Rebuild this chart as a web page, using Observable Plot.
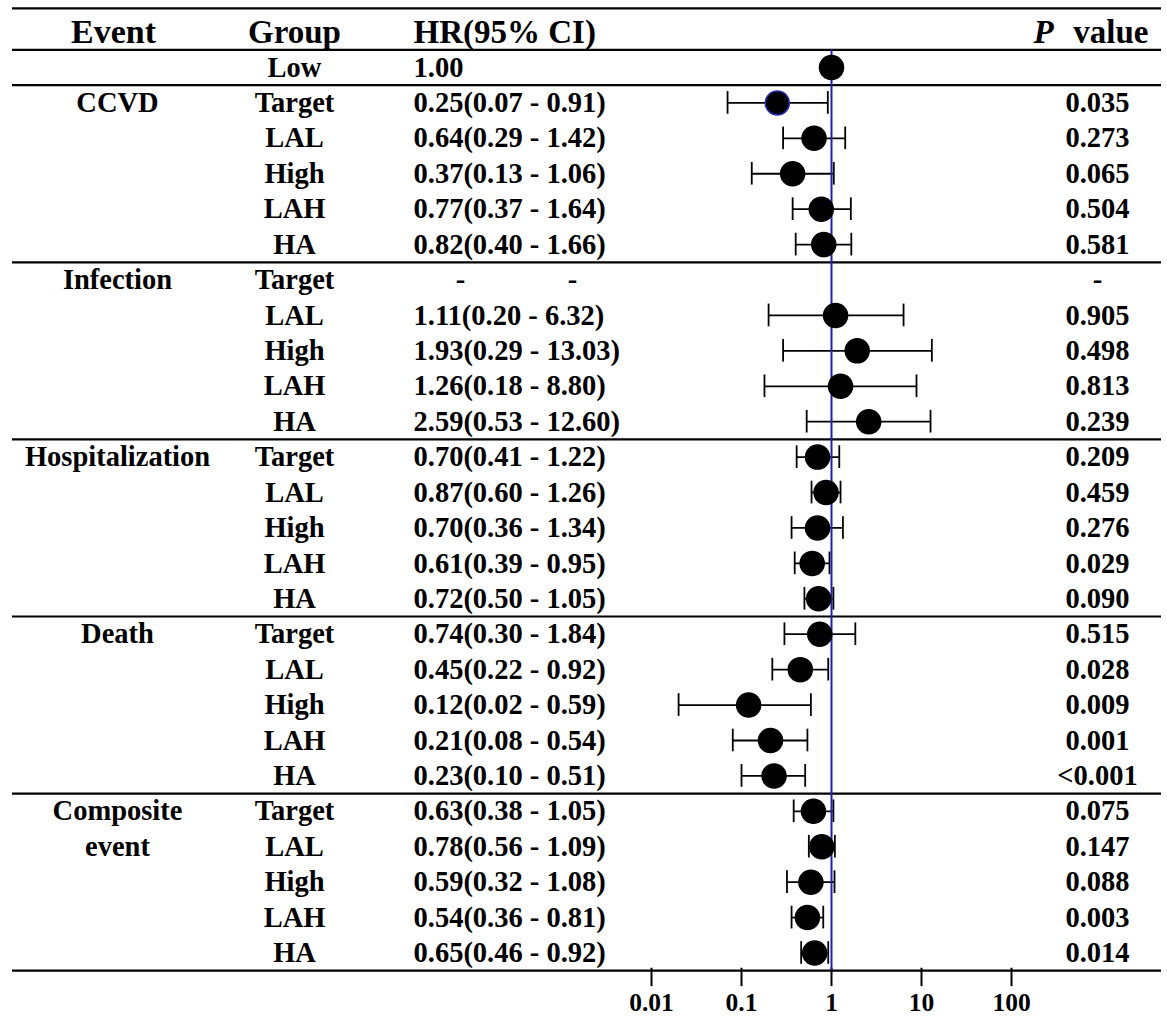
<!DOCTYPE html>
<html>
<head>
<meta charset="utf-8">
<script src="https://cdn.jsdelivr.net/npm/d3@7"></script>
<script src="https://cdn.jsdelivr.net/npm/@observablehq/plot@0.6"></script>
<style>
  html, body { margin: 0; padding: 0; background: #fff; }
  #chart svg { display: block; }
</style>
</head>
<body>
<div id="chart"></div>
<script>
// ---- data ----
const eventNames = ["CCVD", "Infection", "Hospitalization", "Death", "Composite\nevent"];
const blockSizes = [5, 5, 5, 5, 5];
const groups = ["Low",
  "Target", "LAL", "High", "LAH", "HA",
  "Target", "LAL", "High", "LAH", "HA",
  "Target", "LAL", "High", "LAH", "HA",
  "Target", "LAL", "High", "LAH", "HA",
  "Target", "LAL", "High", "LAH", "HA"];
const hrValues = [1.00,
  0.25, 0.64, 0.37, 0.77, 0.82,
  null, 1.11, 1.93, 1.26, 2.59,
  0.70, 0.87, 0.70, 0.61, 0.72,
  0.74, 0.45, 0.12, 0.21, 0.23,
  0.63, 0.78, 0.59, 0.54, 0.65];
const ciLow = [null,
  0.07, 0.29, 0.13, 0.37, 0.40,
  null, 0.20, 0.29, 0.18, 0.53,
  0.41, 0.60, 0.36, 0.39, 0.50,
  0.30, 0.22, 0.02, 0.08, 0.10,
  0.38, 0.56, 0.32, 0.36, 0.46];
const ciHigh = [null,
  0.91, 1.42, 1.06, 1.64, 1.66,
  null, 6.32, 13.03, 8.80, 12.60,
  1.22, 1.26, 1.34, 0.95, 1.05,
  1.84, 0.92, 0.59, 0.54, 0.51,
  1.05, 1.09, 1.08, 0.81, 0.92];
const pValues = ["",
  "0.035", "0.273", "0.065", "0.504", "0.581",
  "-", "0.905", "0.498", "0.813", "0.239",
  "0.209", "0.459", "0.276", "0.029", "0.090",
  "0.515", "0.028", "0.009", "0.001", "<0.001",
  "0.075", "0.147", "0.088", "0.003", "0.014"];
const axisTicks = [0.01, 0.1, 1, 10, 100];
const headers = {event: "Event", group: "Group", hr: "HR(95% CI)", p: "P", value: "value"};

// ---- derived tables ----
const rows = groups.map((g, i) => ({
  i, group: g, hr: hrValues[i], lo: ciLow[i], hi: ciHigh[i], p: pValues[i],
  label: hrValues[i] == null ? null :
    hrValues[i].toFixed(2) + (ciLow[i] == null ? "" : `(${ciLow[i].toFixed(2)} - ${ciHigh[i].toFixed(2)})`)
}));
const eventRows = [];
const separators = [-0.5, 0.5];
let start = 1;
eventNames.forEach((name, k) => {
  name.split("\n").forEach((t, j) => eventRows.push({i: start + j, text: t}));
  start += blockSizes[k];
  separators.push(start - 0.5);
});
const bottom = separators[separators.length - 1];
const withCI = rows.filter(d => d.lo != null);
const withHR = rows.filter(d => d.hr != null);
const missing = rows.filter(d => d.hr == null);

const ML = 12;
const FONT = "'Liberation Serif', 'Times New Roman', serif";
const FS = 28.5, HFS = 33;
const HEAD = -1, TOP = -1.67;

const chart = Plot.plot({
  width: 1167,
  height: 1016,
  marginLeft: ML,
  marginRight: 6,
  marginTop: 0,
  marginBottom: 46,
  style: {fontFamily: FONT, fontWeight: "bold", color: "black", background: "white"},
  x: {type: "log", domain: [0.01, 100], range: [651, 1011], axis: null},
  y: {domain: [0, 25], range: [67, 952.5], axis: null},
  marks: [
    // horizontal table lines
    Plot.ruleY([TOP, ...separators], {stroke: "black", strokeWidth: 2.2}),
    // axis ticks and labels
    Plot.ruleX(axisTicks, {x: d => d, y1: bottom - 0.07, y2: bottom + 0.45, stroke: "black", strokeWidth: 2}),
    Plot.text(axisTicks, {x: d => d, y: () => bottom + 0.9, text: d => String(d), fontSize: 25.5, textAnchor: "middle"}),
    // CI whiskers
    Plot.ruleY(withCI, {x1: "lo", x2: "hi", y: "i", stroke: "black", strokeWidth: 1.8}),
    Plot.ruleX(withCI, {x: "lo", y1: d => d.i - 0.32, y2: d => d.i + 0.32, stroke: "black", strokeWidth: 1.8}),
    Plot.ruleX(withCI, {x: "hi", y1: d => d.i - 0.32, y2: d => d.i + 0.32, stroke: "black", strokeWidth: 1.8}),
    // reference line at HR = 1
    Plot.ruleX([1], {y1: -0.5, y2: bottom, stroke: "#2121a6", strokeWidth: 2}),
    // points
    Plot.dot(withHR, {x: "hr", y: "i", r: 12, fill: "black",
      stroke: d => d.i === 1 ? "#2a2ab8" : "black", strokeWidth: 1.5}),
    // header
    Plot.text([headers.event], {frameAnchor: "left", dx: 113 - ML, y: [HEAD], text: d => d, textAnchor: "middle", fontSize: HFS + 1}),
    Plot.text([headers.group], {frameAnchor: "left", dx: 294 - ML, y: [HEAD], text: d => d, textAnchor: "middle", fontSize: HFS}),
    Plot.text([headers.hr], {frameAnchor: "left", dx: 413 - ML, y: [HEAD], text: d => d, textAnchor: "start", fontSize: HFS}),
    Plot.text([headers.p], {frameAnchor: "left", dx: 1033 - ML, y: [HEAD], text: d => d, textAnchor: "start", fontSize: HFS, fontStyle: "italic"}),
    Plot.text([headers.value], {frameAnchor: "left", dx: 1148 - ML, y: [HEAD], text: d => d, textAnchor: "end", fontSize: HFS}),
    // event column
    Plot.text(eventRows, {frameAnchor: "left", dx: 117 - ML, y: "i", text: "text", textAnchor: "middle", fontSize: FS}),
    // group column
    Plot.text(rows, {frameAnchor: "left", dx: 294 - ML, y: "i", text: "group", textAnchor: "middle", fontSize: FS}),
    // HR (95% CI) column
    Plot.text(rows.filter(d => d.label), {frameAnchor: "left", dx: 413 - ML, y: "i", text: "label", textAnchor: "start", fontSize: FS}),
    Plot.text(missing, {frameAnchor: "left", dx: 460 - ML, y: "i", text: () => "-", textAnchor: "middle", fontSize: FS}),
    Plot.text(missing, {frameAnchor: "left", dx: 572 - ML, y: "i", text: () => "-", textAnchor: "middle", fontSize: FS}),
    // P value column
    Plot.text(rows, {frameAnchor: "left", dx: 1097 - ML, y: "i", text: "p", textAnchor: "middle", fontSize: FS})
  ]
});
document.getElementById("chart").appendChild(chart);
</script>
</body>
</html>
